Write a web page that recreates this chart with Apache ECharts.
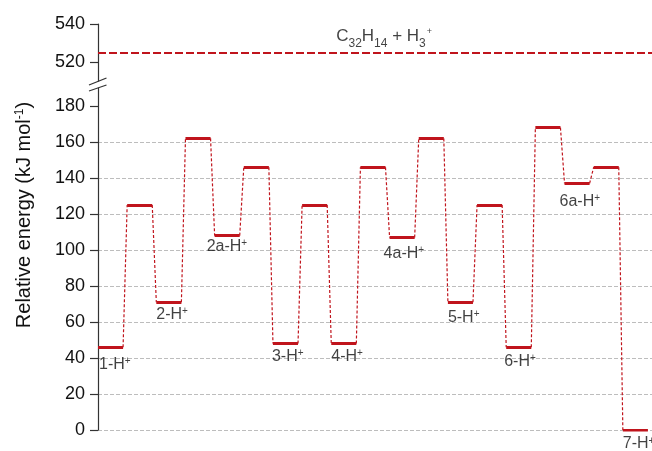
<!DOCTYPE html>
<html>
<head>
<meta charset="utf-8">
<script src="https://cdn.jsdelivr.net/npm/echarts@6/dist/echarts.min.js"></script>
<style>
  html, body { margin: 0; padding: 0; background: #fff; }
  #chart { width: 652px; height: 451px; }
</style>
</head>
<body>
<div id="chart"></div>
<script>
// Relative energies (kJ mol-1) of the stationary points along the pathway
const energies = [46, 125, 71, 162, 108, 146, 48, 125, 48, 146, 107, 162, 71, 125, 46, 168, 137, 146, 0];
// Names of the minima; transition states carry no name
const stateNames = ['1-H', '', '2-H', '', '2a-H', '', '3-H', '', '4-H', '', '4a-H', '', '5-H', '', '6-H', '', '6a-H', '', '7-H'];
// Dissociation limit and its label
const limitEnergy = 525;
const limitText = '{m|C}{sub|32}{m|H}{sub|14}{m| + H}{sub|3}{sup|+}';
// Axis ticks
const upperTicks = [520, 540];
const upperMinorTicks = [530];
const lowerTicks = [0, 20, 40, 60, 80, 100, 120, 140, 160, 180];
const lowerMinorTicks = [10, 30, 50, 70, 90, 110, 130, 150, 170];

// ---- layout / style ----
const RED = '#c0141c';
const AXIS = '#333';
const INK = '#111';
const FONT = 'Arial, "Liberation Sans", Helvetica, sans-serif';
const LEVEL_W = 0.86;           // width of a level bar in x units
const LIMIT_LABEL_X = 8.17;     // x position of the dissociation label
const labelOffsets = {
  '1-H': [1, 18], '2-H': [0, 13], '2a-H': [-8, 12], '3-H': [-1, 14], '4-H': [0, 14],
  '4a-H': [-6, 17], '5-H': [0, 16], '6-H': [-2, 15], '6a-H': [-5, 19], '7-H': [0, 15]
};

const levelLines = energies.map((e, i) => ({ coords: [[i, e], [i + LEVEL_W, e]] }));
const connectorLines = [];
for (let i = 0; i < energies.length - 1; i++) {
  connectorLines.push({ coords: [[i + LEVEL_W, energies[i]], [i + 1, energies[i + 1]]] });
}
const stateLabels = [];
energies.forEach((e, i) => {
  const name = stateNames[i];
  if (!name) return;
  stateLabels.push({
    value: [i, e],
    label: { offset: labelOffsets[name], formatter: '{b|' + name + '}{s|+}' }
  });
});

const tickStyle = { color: AXIS, width: 1.2 };

const option = {
  animation: false,
  backgroundColor: '#fff',
  grid: [
    { left: 98, right: 0, top: 24, height: 57 },
    { left: 98, right: 0, top: 88, height: 342 }
  ],
  xAxis: [
    { gridIndex: 0, type: 'value', min: 0, max: 19, show: false },
    { gridIndex: 1, type: 'value', min: 0, max: 19, show: false }
  ],
  yAxis: [
    {
      gridIndex: 0, type: 'value', min: 510, max: 540, interval: 10,
      axisLine: { show: true, lineStyle: tickStyle },
      axisTick: { show: true, customValues: upperTicks, length: 8, lineStyle: tickStyle },
      axisLabel: { customValues: upperTicks, fontSize: 18, color: INK, fontFamily: FONT, margin: 13 },
      splitLine: { show: false }
    },
    {
      gridIndex: 0, type: 'value', min: 510, max: 540, interval: 10,
      axisLine: { show: false },
      axisTick: { show: true, customValues: upperMinorTicks, length: 5, lineStyle: tickStyle },
      axisLabel: { show: false },
      splitLine: { show: false }
    },
    {
      gridIndex: 1, type: 'value', min: 0, max: 190, interval: 10,
      axisLine: { show: true, lineStyle: tickStyle },
      axisTick: { show: true, customValues: lowerTicks, length: 8, lineStyle: tickStyle },
      axisLabel: { customValues: lowerTicks, fontSize: 18, color: INK, fontFamily: FONT, margin: 13 },
      splitLine: {
        show: true, showMinLine: true, showMaxLine: false,
        lineStyle: { color: '#bdbdbd', type: [4, 2], width: 1 }
      }
    },
    {
      gridIndex: 1, type: 'value', min: 0, max: 190, interval: 10,
      axisLine: { show: false },
      axisTick: { show: true, customValues: lowerMinorTicks, length: 5, lineStyle: tickStyle },
      axisLabel: { show: false },
      splitLine: { show: false }
    }
  ],
  series: [
    {
      type: 'lines', coordinateSystem: 'cartesian2d', xAxisIndex: 0, yAxisIndex: 0,
      data: [{ coords: [[0, limitEnergy], [19, limitEnergy]] }],
      lineStyle: { color: RED, width: 2, type: [8, 3], opacity: 1 },
      silent: true, z: 3
    },
    {
      type: 'scatter', xAxisIndex: 0, yAxisIndex: 0,
      data: [[LIMIT_LABEL_X, limitEnergy]],
      symbolSize: 1, itemStyle: { color: 'transparent' }, silent: true,
      label: {
        show: true, position: 'inside', align: 'left', verticalAlign: 'top',
        offset: [0, -25], formatter: limitText,
        rich: {
          m: { fontSize: 17, verticalAlign: 'top', color: INK, fontFamily: FONT },
          sub: { fontSize: 12, verticalAlign: 'top', padding: [10, 0, 0, 0], color: INK, fontFamily: FONT },
          sup: { fontSize: 9, verticalAlign: 'top', padding: [0, 0, 0, 1], color: INK, fontFamily: FONT }
        }
      }
    },
    {
      type: 'lines', coordinateSystem: 'cartesian2d', xAxisIndex: 1, yAxisIndex: 2,
      data: connectorLines,
      lineStyle: { color: RED, width: 1.2, type: [3, 2], opacity: 1 },
      silent: true, z: 3
    },
    {
      type: 'lines', coordinateSystem: 'cartesian2d', xAxisIndex: 1, yAxisIndex: 2,
      data: levelLines,
      lineStyle: { color: RED, width: 2.8, type: 'solid', opacity: 1 },
      silent: true, z: 4
    },
    {
      type: 'scatter', xAxisIndex: 1, yAxisIndex: 2,
      data: stateLabels,
      symbolSize: 1, itemStyle: { color: 'transparent' }, silent: true, z: 5,
      label: {
        show: true, position: 'inside', align: 'left', verticalAlign: 'middle',
        rich: {
          b: { fontSize: 16, lineHeight: 18, verticalAlign: 'top', color: INK, fontFamily: FONT },
          s: { fontSize: 10, lineHeight: 10, verticalAlign: 'top', color: INK, fontFamily: FONT }
        }
      }
    }
  ],
  graphic: [
    // axis break marks
    { type: 'line', shape: { x1: 89, y1: 85, x2: 106.5, y2: 78 }, style: { stroke: AXIS, lineWidth: 1.2 } },
    { type: 'line', shape: { x1: 89, y1: 91, x2: 106.5, y2: 85 }, style: { stroke: AXIS, lineWidth: 1.2 } },
    {
      type: 'text', x: 25, y: 215, rotation: Math.PI / 2,
      style: {
        text: '{n|Relative energy (kJ mol}{p|-1}{n|)}',
        align: 'center', verticalAlign: 'middle',
        rich: {
          n: { fontSize: 20, lineHeight: 22, verticalAlign: 'top', fill: INK, fontFamily: FONT },
          p: { fontSize: 12, lineHeight: 12, verticalAlign: 'top', fill: INK, fontFamily: FONT }
        }
      }
    }
  ]
};

const chart = echarts.init(document.getElementById('chart'), null, { renderer: 'canvas' });
chart.setOption(option);
</script>
</body>
</html>
